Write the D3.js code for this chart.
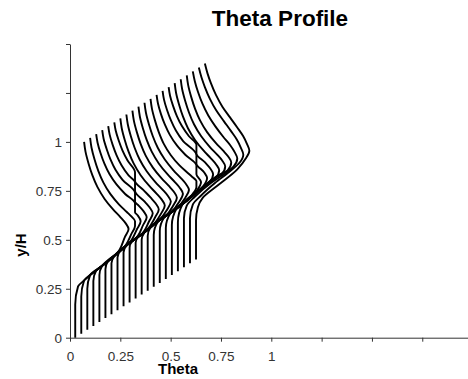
<!DOCTYPE html>
<html><head><meta charset="utf-8">
<script src="https://cdn.jsdelivr.net/npm/d3@7"></script>
<style>body{margin:0;background:#fff}svg{display:block}</style>
</head><body>
<svg id="chart" width="468" height="379"></svg>
<script>
// Axis ticks (only the first five x ticks carry labels)
const xTicks = [0, 0.25, 0.5, 0.75, 1, 1.25, 1.5, 1.75];
const xTickLabels = ["0", "0.25", "0.5", "0.75", "1", "", "", ""];
const yTicks = [0, 0.25, 0.5, 0.75, 1, 1.25, 1.5];
const yTickLabels = ["0", "0.25", "0.5", "0.75", "1", "", ""];

// Theta profiles, each as [theta, y/H] points from bottom to top (stacked, staggered)
const p01 = [[0.026,0],[0.026,0.17],[0.04,0.262],[0.07,0.292],[0.10,0.32],[0.16,0.367],[0.231,0.427],[0.273,0.515],[0.291,0.555],[0.276,0.585],[0.251,0.615],[0.214,0.655],[0.171,0.71],[0.136,0.77],[0.111,0.83],[0.092,0.89],[0.077,0.95],[0.07,1.0]];
const p02 = [[0.056,0.02],[0.056,0.21],[0.07,0.292],[0.10,0.32],[0.16,0.367],[0.24,0.435],[0.261,0.453],[0.305,0.53],[0.323,0.57],[0.323,0.595],[0.306,0.618],[0.281,0.643],[0.244,0.68],[0.201,0.733],[0.166,0.792],[0.141,0.851],[0.122,0.91],[0.107,0.97],[0.10,1.02]];
const p03 = [[0.086,0.04],[0.086,0.25],[0.10,0.32],[0.16,0.367],[0.24,0.435],[0.291,0.479],[0.333,0.555],[0.351,0.595],[0.336,0.625],[0.323,0.641],[0.323,0.686],[0.274,0.734],[0.231,0.783],[0.196,0.836],[0.171,0.889],[0.152,0.942],[0.137,0.996],[0.13,1.04]];
const p04 = [[0.116,0.06],[0.116,0.29],[0.13,0.343],[0.16,0.367],[0.24,0.435],[0.30,0.487],[0.321,0.502],[0.363,0.575],[0.381,0.615],[0.366,0.645],[0.341,0.675],[0.323,0.694],[0.323,0.739],[0.261,0.806],[0.226,0.858],[0.201,0.911],[0.182,0.964],[0.167,1.016],[0.16,1.06]];
const p05 = [[0.146,0.08],[0.146,0.32],[0.16,0.367],[0.24,0.435],[0.30,0.487],[0.351,0.524],[0.393,0.595],[0.411,0.635],[0.396,0.665],[0.371,0.695],[0.323,0.749],[0.323,0.794],[0.291,0.829],[0.256,0.881],[0.231,0.933],[0.212,0.985],[0.197,1.037],[0.19,1.08]];
const p06 = [[0.176,0.10],[0.176,0.35],[0.19,0.393],[0.24,0.435],[0.30,0.487],[0.381,0.548],[0.423,0.615],[0.441,0.655],[0.426,0.685],[0.401,0.715],[0.364,0.755],[0.323,0.80],[0.323,0.845],[0.286,0.905],[0.261,0.956],[0.242,1.007],[0.227,1.058],[0.22,1.10]];
const p07 = [[0.206,0.12],[0.206,0.38],[0.22,0.418],[0.30,0.487],[0.37,0.538],[0.411,0.574],[0.453,0.635],[0.471,0.675],[0.456,0.705],[0.431,0.735],[0.394,0.775],[0.351,0.83],[0.316,0.89],[0.291,0.95],[0.272,1.01],[0.257,1.07],[0.25,1.12]];
const p08 = [[0.236,0.14],[0.236,0.41],[0.25,0.444],[0.30,0.487],[0.37,0.538],[0.441,0.598],[0.483,0.655],[0.501,0.695],[0.486,0.725],[0.461,0.755],[0.424,0.795],[0.381,0.85],[0.346,0.91],[0.321,0.97],[0.302,1.03],[0.287,1.09],[0.28,1.14]];
const p09 = [[0.266,0.16],[0.266,0.435],[0.28,0.47],[0.30,0.487],[0.37,0.538],[0.43,0.59],[0.471,0.618],[0.513,0.675],[0.531,0.715],[0.516,0.745],[0.491,0.775],[0.454,0.815],[0.411,0.87],[0.376,0.93],[0.351,0.99],[0.332,1.05],[0.317,1.11],[0.31,1.16]];
const p10 = [[0.296,0.18],[0.296,0.46],[0.31,0.494],[0.37,0.538],[0.43,0.59],[0.501,0.639],[0.543,0.695],[0.561,0.735],[0.546,0.765],[0.521,0.795],[0.484,0.835],[0.441,0.89],[0.406,0.95],[0.381,1.01],[0.362,1.07],[0.347,1.13],[0.34,1.18]];
const p11 = [[0.326,0.20],[0.326,0.485],[0.34,0.516],[0.37,0.538],[0.43,0.59],[0.531,0.662],[0.573,0.715],[0.591,0.755],[0.576,0.785],[0.551,0.815],[0.514,0.855],[0.471,0.91],[0.436,0.97],[0.411,1.03],[0.392,1.09],[0.377,1.15],[0.37,1.20]];
const p12 = [[0.356,0.22],[0.356,0.50],[0.37,0.538],[0.43,0.59],[0.51,0.645],[0.561,0.685],[0.61,0.735],[0.628,0.77],[0.628,0.80],[0.606,0.822],[0.581,0.845],[0.544,0.88],[0.501,0.932],[0.466,0.99],[0.441,1.05],[0.422,1.11],[0.407,1.17],[0.40,1.22]];
const p13 = [[0.386,0.24],[0.386,0.52],[0.40,0.564],[0.43,0.59],[0.51,0.645],[0.591,0.709],[0.633,0.755],[0.651,0.795],[0.628,0.835],[0.628,0.88],[0.574,0.933],[0.531,0.982],[0.496,1.036],[0.471,1.089],[0.452,1.142],[0.437,1.196],[0.43,1.24]];
const p14 = [[0.416,0.26],[0.416,0.525],[0.44,0.597],[0.51,0.645],[0.58,0.70],[0.621,0.735],[0.663,0.775],[0.681,0.815],[0.666,0.845],[0.628,0.889],[0.628,0.934],[0.561,1.005],[0.526,1.058],[0.501,1.111],[0.482,1.163],[0.467,1.216],[0.46,1.26]];
const p15 = [[0.446,0.28],[0.446,0.545],[0.47,0.618],[0.51,0.645],[0.58,0.70],[0.651,0.761],[0.693,0.795],[0.711,0.835],[0.696,0.865],[0.671,0.895],[0.628,0.94],[0.628,0.985],[0.591,1.029],[0.556,1.081],[0.531,1.132],[0.512,1.184],[0.497,1.236],[0.49,1.28]];
const p16 = [[0.476,0.30],[0.476,0.56],[0.50,0.638],[0.58,0.70],[0.65,0.76],[0.681,0.785],[0.723,0.815],[0.741,0.855],[0.726,0.885],[0.701,0.915],[0.664,0.955],[0.621,1.01],[0.586,1.07],[0.561,1.13],[0.542,1.19],[0.527,1.25],[0.52,1.30]];
const p17 = [[0.506,0.32],[0.506,0.575],[0.53,0.661],[0.58,0.70],[0.65,0.76],[0.711,0.81],[0.753,0.835],[0.771,0.875],[0.756,0.905],[0.731,0.935],[0.694,0.975],[0.651,1.03],[0.616,1.09],[0.591,1.15],[0.572,1.21],[0.557,1.27],[0.55,1.32]];
const p18 = [[0.536,0.34],[0.536,0.59],[0.56,0.684],[0.65,0.76],[0.741,0.832],[0.783,0.855],[0.801,0.895],[0.786,0.925],[0.761,0.955],[0.724,0.995],[0.681,1.05],[0.646,1.11],[0.621,1.17],[0.602,1.23],[0.587,1.29],[0.58,1.34]];
const p19 = [[0.566,0.36],[0.566,0.61],[0.58,0.675],[0.62,0.72],[0.70,0.79],[0.771,0.84],[0.813,0.875],[0.831,0.915],[0.818,0.948],[0.796,0.983],[0.762,1.025],[0.723,1.078],[0.687,1.135],[0.658,1.195],[0.636,1.255],[0.62,1.31],[0.61,1.36]];
const p20 = [[0.596,0.38],[0.596,0.61],[0.61,0.68],[0.65,0.725],[0.72,0.79],[0.801,0.855],[0.843,0.895],[0.861,0.935],[0.849,0.97],[0.83,1.01],[0.80,1.055],[0.765,1.105],[0.727,1.16],[0.695,1.22],[0.67,1.28],[0.653,1.33],[0.64,1.38]];
const p21 = [[0.626,0.40],[0.626,0.60],[0.635,0.665],[0.66,0.715],[0.73,0.775],[0.831,0.86],[0.873,0.915],[0.891,0.955],[0.879,0.99],[0.86,1.03],[0.83,1.075],[0.795,1.125],[0.757,1.18],[0.725,1.24],[0.70,1.30],[0.683,1.35],[0.67,1.40]];

const profiles = [p01,p02,p03,p04,p05,p06,p07,p08,p09,p10,p11,p12,p13,p14,p15,p16,p17,p18,p19,p20,p21];

const svg = d3.select("#chart");
const font = "'Liberation Sans', Arial, sans-serif";

const x = d3.scaleLinear().domain([0, 2]).range([70, 472.6]);
const y = d3.scaleLinear().domain([0, 1.5]).range([337.7, 44]);

// Profiles
const line = d3.line()
  .x(d => x(d[0]))
  .y(d => y(d[1]))
  .curve(d3.curveMonotoneY);

svg.append("g")
  .selectAll("path")
  .data(profiles)
  .join("path")
  .attr("d", line)
  .attr("fill", "none")
  .attr("stroke", "#000")
  .attr("stroke-width", 1.9)
  .attr("stroke-linejoin", "round");

// Axes
const xAxis = d3.axisBottom(x)
  .tickValues(xTicks)
  .tickFormat((d, i) => xTickLabels[i])
  .tickSize(4)
  .tickSizeOuter(0)
  .tickPadding(10);

const yAxis = d3.axisLeft(y)
  .tickValues(yTicks)
  .tickFormat((d, i) => yTickLabels[i])
  .tickSize(4)
  .tickSizeOuter(0)
  .tickPadding(4);

const gx = svg.append("g").attr("transform", `translate(0,${y(0)})`).call(xAxis);
const gy = svg.append("g").attr("transform", `translate(${x(0)},0)`).call(yAxis);

[gx, gy].forEach(g => {
  g.select(".domain").attr("stroke", "#333").attr("stroke-width", 1);
  g.selectAll(".tick line").attr("stroke", "#333");
  g.selectAll(".tick text")
    .attr("fill", "#333")
    .style("font-family", font)
    .style("font-size", "13.5px");
});

// Titles
svg.append("text")
  .attr("x", 280).attr("y", 26)
  .attr("text-anchor", "middle")
  .style("font-family", font)
  .style("font-weight", "bold")
  .style("font-size", "22.5px")
  .text("Theta Profile");

svg.append("text")
  .attr("x", 178).attr("y", 374)
  .attr("text-anchor", "middle")
  .style("font-family", font)
  .style("font-weight", "bold")
  .style("font-size", "15px")
  .text("Theta");

svg.append("text")
  .attr("transform", "translate(26,245) rotate(-90)")
  .attr("text-anchor", "middle")
  .style("font-family", font)
  .style("font-weight", "bold")
  .style("font-size", "15px")
  .text("y/H");
</script>
</body></html>
